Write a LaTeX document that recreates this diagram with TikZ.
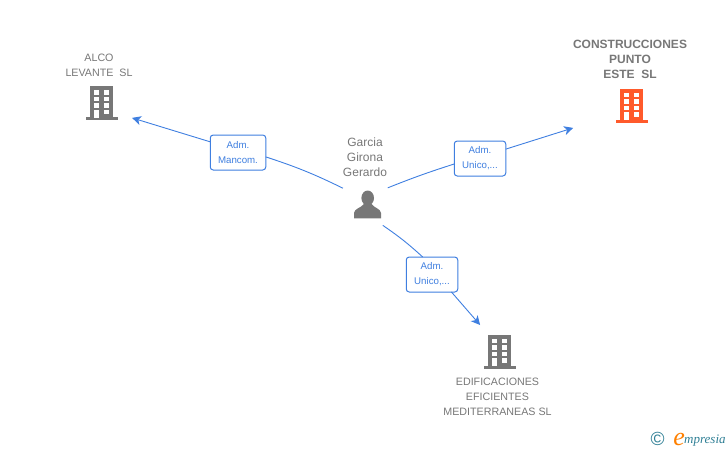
\documentclass[tikz,border=0pt]{standalone}
\usepackage{fontspec}
\setmainfont{Liberation Sans}
\newfontfamily\logofont{Liberation Serif}
\usepackage{xcolor}
\usetikzlibrary{arrows.meta,calc,shapes.geometric}
\definecolor{linkblue}{HTML}{3F7FE0}
\definecolor{iconorange}{HTML}{FF5A2B}
\definecolor{icongray}{HTML}{777777}
\definecolor{logoteal}{HTML}{2F7F95}
\tikzset{
    hitarea/.style={circle,inner sep=0pt,outer sep=0pt,minimum size=#1},
    nametext/.style={align=center,text=icongray,font=\fontsize{10.7}{15}\selectfont},
    admbox/.style={draw=linkblue,fill=white,rounded corners=3pt,line width=1pt,align=center,text=linkblue,
        font=\fontsize{9.7}{15}\selectfont,minimum width=#1,minimum height=35pt,inner sep=0pt,outer sep=0pt},
    linkline/.style={draw=linkblue,line width=0.9pt},
    linkarrow/.style={linkline,-{Stealth[length=9pt,width=9pt,inset=2.5pt]}},
    pics/buildingicon/.style={code={
        \fill[#1] (-11.5,-17) rectangle (11.5,14.5);
        \fill[#1] (-16,14) rectangle (16,17);
        \foreach \rowy in {-13,-6.5,0} {
            \fill[white] (-8,\rowy) rectangle (-3,\rowy+4.5);
            \fill[white] (2,\rowy) rectangle (7.5,\rowy+4.5);
        }
        \fill[white] (-8,6.5) rectangle (-3,14.5);
        \fill[white] (2,6.5) rectangle (7.5,11);
    }},
}
\begin{document}
\begin{tikzpicture}[x=1pt,y=-1pt]
    \useasboundingbox (0,0) rectangle (728,450);

    % companies and the person
    \node[hitarea=68pt] (alco) at (101.5,103) {};
    \node[hitarea=125pt] (constr) at (631.5,105.5) {};
    \node[hitarea=66pt] (edif) at (499.5,351.7) {};
    \node[hitarea=55pt] (garcia) at (365.5,204) {};
    \pic at (alco) {buildingicon=icongray};
    \pic at (constr) {buildingicon=iconorange};
    \pic at (edif) {buildingicon=icongray};
    \fill[icongray] (367.7,198) ellipse (6.3pt and 7.5pt);
    \fill[icongray] (354,218.3) -- (354,213) .. controls (354.5,208.5) and (360,208.5) .. (364,204)
        -- (371.5,204) .. controls (375,208.5) and (380.5,208.5) .. (381,213) -- (381,218.3) -- cycle;

    % names
    \node[nametext] (alconame) at (99,65) {ALCO\\LEVANTE\ \ SL};
    \node[nametext,font=\fontsize{12}{15}\selectfont\bfseries] (constrname) at (630,59.7) {CONSTRUCCIONES\\PUNTO\\ESTE\ \ SL};
    \node[nametext] (edifname) at (497.5,396.7) {EDIFICACIONES\\EFICIENTES\\MEDITERRANEAS SL};
    \node[nametext,font=\fontsize{12}{15}\selectfont] (garcianame) at (365,157) {Garcia\\Girona\\Gerardo};

    % labels
    \node[admbox=55.5pt] (admalco) at (238,152.5) {Adm.\\Mancom.};
    \node[admbox=51.5pt] (admconstr) at (480,158.5) {Adm.\\Unico,...};
    \node[admbox=51.5pt] (admedif) at (432,274.5) {Adm.\\Unico,...};

    % links
    \draw[linkline] (garcia.145.4) to[bend right=4] (admalco.-9);
    \draw[linkarrow] (admalco.159) -- (alco.-26);
    \draw[linkline] (garcia.36.5) to[bend left=2] (admconstr.192);
    \draw[linkarrow] (admconstr.20) -- (constr.201);
    \draw[linkline] (garcia.-51.5) to[bend left=4] (admedif.118);
    \draw[linkarrow] (admedif.-42.6) -- (edif.126);

    % logo
    \node[text=logoteal,font=\fontsize{19}{19}\selectfont,inner sep=0pt] (logoc) at (657.5,438.5) {©};
    \node[text=logoteal,font=\logofont\itshape\fontsize{13}{13}\selectfont,anchor=base west,inner sep=0pt] (logotext) at (684,443) {mpresia};
    \node[text=orange,font=\logofont\itshape\fontsize{26}{26}\selectfont,anchor=base east,inner sep=0pt] (logoe) at (685,445.5) {e};
\end{tikzpicture}
\end{document}
